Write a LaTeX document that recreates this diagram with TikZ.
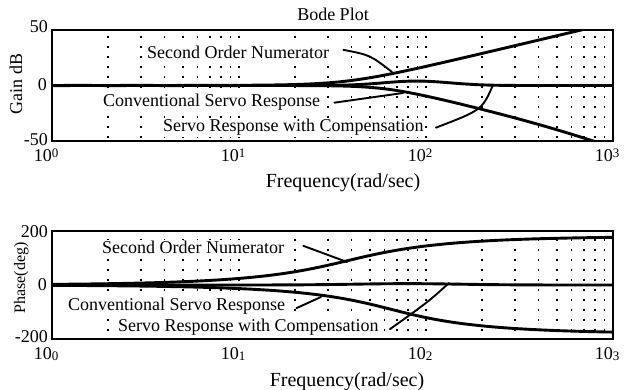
\documentclass[tikz,border=0pt]{standalone}
\usepackage{fontspec}
\setmainfont{Liberation Serif}
\begin{document}
\begin{tikzpicture}[x=1pt,y=-1pt,
  every node/.style={font=\fontsize{18}{20}\selectfont, inner sep=0pt},
  frame/.style={line width=1.7pt},
  curve/.style={line width=2.9pt, line join=round, line cap=round},
  leader/.style={line width=1.9pt, line cap=round},
  gaingrid/.style={line width=1.8pt, dash pattern=on 1.8pt off 8.2pt, dash phase=3.8pt},
  phasegrid/.style={line width=1.8pt, dash pattern=on 1.8pt off 8.2pt, dash phase=2.3pt},
  curvelabel/.style={anchor=base west, fill=white, inner sep=1pt},
  ticklabel/.style={anchor=base east},
  axislabel/.style={anchor=base},
  declare function={
    w(\t)=pow(10,\t);
    gnum(\t)=20*log10(w(\t)/38)+10*log10((38/w(\t)-w(\t)/38)^2+4*0.8^2);
    pnum(\t)=90+atan((w(\t)/38-38/w(\t))/1.6);
    gcon(\t)=-(20*log10(w(\t)/60)+10*log10((60/w(\t)-w(\t)/60)^2+4*0.7^2))-10*log10(1+(w(\t)/500)^2);
    pcon(\t)=-(90+atan((w(\t)/65-65/w(\t))/1.5));
    gcmp(\t)=4*exp(-((\t-1.95)/0.25)^2);
    pcmp(\t)=5*exp(-((\t-1.9)/0.4)^2);
  }]
\useasboundingbox (0,0) rectangle (626,390);

% ---------------- gain plot ----------------
\node[axislabel] (title) at (333,21) {Bode Plot};
\foreach \d in {0,1,2}{
  \foreach \k in {2,...,10}{
    \pgfmathsetmacro{\gx}{52+187*(\d+log10(\k))}
    \ifdim\gx pt<612pt
      \draw[gaingrid] (\gx,30) -- (\gx,141);
    \fi
  }
}
\begin{scope}
  \clip (52,30) rectangle (613,141);
  \draw[curve] plot[domain=0:3, samples=200] ({52+187*\x},{85.5-1.11*gnum(\x)});
  \draw[curve] plot[domain=0:3, samples=200] ({52+187*\x},{85.5-1.11*gcon(\x)});
  \draw[curve] plot[domain=0:3, samples=200] ({52+187*\x},{85.5-1.11*gcmp(\x)});
\end{scope}
\draw[frame] (52,30) rectangle (613,141);

\node[curvelabel] (gnumlab) at (146,59) {Second Order Numerator};
\node[curvelabel] (gconlab) at (102,107) {Conventional Servo Response};
\node[curvelabel] (gcmplab) at (162,132) {Servo Response with Compensation};
\coordinate (gnumpt) at (392,72);
\coordinate (gconpt) at (403,93);
\coordinate (gcmppt) at (493,85);
\draw[leader] ([xshift=13pt,yshift=3pt]gnumlab.east) .. controls (370,55) .. (gnumpt);
\draw[leader] ([xshift=13pt]gconlab.east) -- (gconpt);
\draw[leader] ([xshift=11pt]gcmplab.east) .. controls (482,110) .. (gcmppt);

\node[ticklabel] (g50) at (48,33) {50};
\node[ticklabel] (g0) at (47,91) {0};
\node[ticklabel] (gm50) at (48,145.5) {-50};
\foreach \d in {0,1,2,3}{
  \node[ticklabel] (gx\d) at ({52+187*\d},162) {10\rlap{\raisebox{4pt}{\fontsize{13}{13}\selectfont\d}}};
}
\node[axislabel, rotate=90] (gainlab) at (22,84) {Gain dB};
\node[axislabel, font=\fontsize{20}{22}\selectfont] (gfreq) at (343,187) {Frequency(rad/sec)};

% ---------------- phase plot ----------------
\foreach \d in {0,1,2}{
  \foreach \k in {2,...,10}{
    \pgfmathsetmacro{\gx}{52+187*(\d+log10(\k))}
    \ifdim\gx pt<612pt
      \draw[phasegrid] (\gx,231) -- (\gx,339);
    \fi
  }
}
\begin{scope}
  \clip (52,231) rectangle (613,339);
  \draw[curve] plot[domain=0:3, samples=200] ({52+187*\x},{285-0.27*pnum(\x)});
  \draw[curve] plot[domain=0:3, samples=200] ({52+187*\x},{285-0.27*pcon(\x)});
  \draw[curve] plot[domain=0:3, samples=200] ({52+187*\x},{285-0.27*pcmp(\x)});
\end{scope}
\draw[frame] (52,231) rectangle (613,339);

\node[curvelabel] (pnumlab) at (101,253) {Second Order Numerator};
\node[curvelabel] (pconlab) at (67,310.5) {Conventional Servo Response};
\node[curvelabel] (pcmplab) at (117,331.5) {Servo Response with Compensation};
\coordinate (pnumpt) at (347,262);
\coordinate (pconpt) at (321,297);
\coordinate (pcmppt) at (449,283);
\draw[leader] ([xshift=18pt,yshift=1pt]pnumlab.east) -- (pnumpt);
\draw[leader] ([xshift=10pt,yshift=-2pt]pconlab.east) -- (pconpt);
\draw[leader] ([xshift=10pt,yshift=-2pt]pcmplab.east) .. controls (428,302) .. (pcmppt);

\node[ticklabel] (p200) at (48,237) {200};
\node[ticklabel] (p0) at (47,290) {0};
\node[ticklabel] (pm200) at (48,342.5) {-200};
\foreach \d in {0,1,2,3}{
  \node[ticklabel] (px\d) at ({52+187*\d},359) {10\rlap{\raisebox{-1.5pt}{\fontsize{13}{13}\selectfont\d}}};
}
\node[axislabel, rotate=90, font=\fontsize{16}{18}\selectfont] (phaselab) at (25,278) {Phase(deg)};
\node[axislabel, font=\fontsize{20}{22}\selectfont] (pfreq) at (347,386) {Frequency(rad/sec)};
\end{tikzpicture}
\end{document}
